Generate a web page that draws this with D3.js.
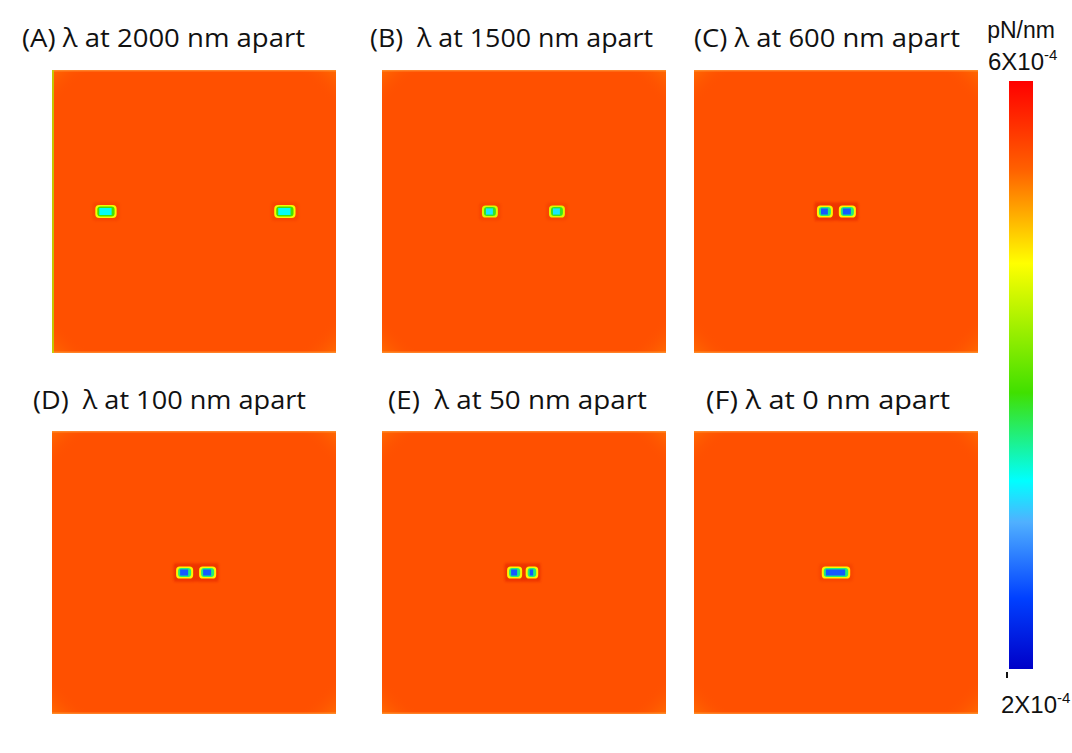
<!DOCTYPE html>
<html><head><meta charset="utf-8">
<script src="https://cdn.jsdelivr.net/npm/d3@7"></script>
<style>body{margin:0;background:#fff}svg{display:block}</style>
</head><body>
<svg id="c" width="1072" height="753"></svg>
<script>
// ---- data ----
const panelLabels = ["(A) λ at 2000 nm apart","(B)  λ at 1500 nm apart","(C) λ at 600 nm apart",
                     "(D)  λ at 100 nm apart","(E)  λ at 50 nm apart","(F) λ at 0 nm apart"];
const separationsNm = [2000,1500,600,100,50,0];
// marker centres, as percent of panel width from the left edge
const markerX = [[19,82],[38,61.6],[46.1,54.0],[46.7,54.8],[46.7,52.8],[50]];
const markerW = [[7.5,7.5],[5.6,5.6],[5.6,6.0],[6.0,6.0],[5.3,4.4],[10]];
const markerH = [4.6,4.3,4.3,4.3,4.3,4.3]; // percent of panel height
// force values (pN/nm) of field and marker layers
const fieldValue = 5.5e-4;
const rimValue   = [4.7e-4,4.6e-4,4.8e-4,4.8e-4,4.8e-4,4.8e-4];
const midValue   = [3.9e-4,3.8e-4,3.6e-4,3.6e-4,3.6e-4,3.6e-4];
const coreValue  = [3.3e-4,3.2e-4,2.6e-4,2.6e-4,2.6e-4,2.6e-4];
const cbarDomain = [2e-4,6e-4];
const cbarTickLabels = ["6X10","2X10"];
const cbarUnit = "pN/nm";
// jet-like colour stops (fraction from low to high)
const stopT = [0,0.12,0.25,0.32,0.47,0.69,0.85,1];
const stopC = ["#0000c8","#0040ff","#50b0ff","#00ffff","#40e000","#ffff00","#ff6000","#ff0000"];

// ---- layout ----
const svg = d3.select("#c");
const panelBoxes = [
  {x:52,y:70},{x:382,y:70},{x:694,y:70},
  {x:52,y:431},{x:382,y:431},{x:694,y:431}];
const PW=284, PH=283;
const titlePos = [[22,47],[370,47],[694,47],[33,409],[388,409],[706,409]];
const titleLen = [283,283,266,273,259,244];

const tScale = d3.scaleLinear().domain(cbarDomain).range([0,1]).clamp(true);
const cInterp = d3.scaleLinear().domain(stopT).range(stopC).interpolate(d3.interpolateRgb);
const color = v => cInterp(tScale(v));

const defs = svg.append("defs");
const blur = defs.append("filter").attr("id","soft").attr("x","-50%").attr("y","-50%").attr("width","200%").attr("height","200%");
blur.append("feGaussianBlur").attr("stdDeviation",1.2);
const blur2 = defs.append("filter").attr("id","soft2").attr("x","-50%").attr("y","-50%").attr("width","200%").attr("height","200%");
blur2.append("feGaussianBlur").attr("stdDeviation",0.6);
// edge vignette
const vg = defs.append("radialGradient").attr("id","vig").attr("cx","50%").attr("cy","50%").attr("r","72%");
vg.append("stop").attr("offset","0.85").attr("stop-color",color(fieldValue)).attr("stop-opacity",0);
vg.append("stop").attr("offset","1").attr("stop-color","#ffb000").attr("stop-opacity",0.35);

panelBoxes.forEach((b,i)=>{
  const g = svg.append("g").attr("transform",`translate(${b.x},${b.y})`);
  const x = d3.scaleLinear().domain([0,100]).range([0,PW]);
  const y = d3.scaleLinear().domain([0,100]).range([0,PH]);
  g.append("rect").attr("width",PW).attr("height",PH).attr("fill",color(fieldValue));
  g.append("rect").attr("width",PW).attr("height",PH).attr("fill","url(#vig)");
  g.append("rect").attr("x",0).attr("y",0).attr("width",PW).attr("height",1.5).attr("fill","#ffa040").attr("opacity",0.6);
  g.append("rect").attr("x",0).attr("y",PH-1.5).attr("width",PW).attr("height",1.5).attr("fill","#ffa040").attr("opacity",0.6);
  if(i===0){
    g.append("rect").attr("x",0).attr("y",0).attr("width",2).attr("height",PH).attr("fill","#b8e000").attr("opacity",0.8);
  }
  if(markerX[i].length===2 && separationsNm[i]<=600){
    // dark-red band around closely spaced markers
    const a = x(markerX[i][0]) - x(markerW[i][0])/2, bx = x(markerX[i][1]) + x(markerW[i][1])/2;
    g.append("rect").attr("x",a-2).attr("y",y(50)-y(markerH[i])/2-3).attr("width",bx-a+4).attr("height",y(markerH[i])+6)
      .attr("fill","#e02000").attr("opacity",0.5).attr("filter","url(#soft)");
  }
  markerX[i].forEach((mx,j)=>{
    const w = x(markerW[i][j]), h = y(markerH[i]);
    const cx = x(mx), cy = y(50);
    g.append("rect").attr("x",cx-w/2-3).attr("y",cy-h/2-3).attr("width",w+6).attr("height",h+6)
      .attr("rx",4).attr("fill","#e83000").attr("opacity",0.3).attr("filter","url(#soft)");
    g.append("rect").attr("x",cx-w/2).attr("y",cy-h/2).attr("width",w).attr("height",h)
      .attr("rx",h*0.3).attr("fill",color(rimValue[i])).attr("filter","url(#soft2)");
    g.append("rect").attr("x",cx-w/2+2).attr("y",cy-h/2+1.5).attr("width",w-4).attr("height",h-3)
      .attr("rx",h*0.25).attr("fill",color(midValue[i]));
    g.append("rect").attr("x",cx-w/2+4).attr("y",cy-h/2+3).attr("width",Math.max(w-9,2)).attr("height",h-6)
      .attr("fill",color(coreValue[i]));
  });
  svg.append("text").attr("x",titlePos[i][0]).attr("y",titlePos[i][1])
    .attr("font-family","'Open Sans', 'Noto Sans', sans-serif").attr("font-size",26)
    .attr("fill","#111").attr("xml:space","preserve").style("white-space","pre")
    .attr("textLength",titleLen[i]).attr("lengthAdjust","spacingAndGlyphs")
    .text(panelLabels[i]);
});

// ---- colour bar ----
const cb = {x:1009,y:81,w:24,h:588};
const lg = defs.append("linearGradient").attr("id","cbar").attr("x1",0).attr("y1",1).attr("x2",0).attr("y2",0);
stopT.forEach((t,k)=>lg.append("stop").attr("offset",t).attr("stop-color",stopC[k]));
svg.append("rect").attr("x",cb.x).attr("y",cb.y).attr("width",cb.w).attr("height",cb.h).attr("fill","url(#cbar)");
const cy = d3.scaleLinear().domain(cbarDomain).range([cb.y+cb.h,cb.y]);
svg.append("rect").attr("x",1006).attr("y",cy(cbarDomain[0])+3).attr("width",2).attr("height",6).attr("fill","#111");

const lf = "'Liberation Sans', Arial, sans-serif";
svg.append("text").attr("x",1021).attr("y",38).attr("text-anchor","middle")
  .attr("font-family",lf).attr("font-size",23).attr("fill","#111").text(cbarUnit);
function sciLabel(xp,yp,base){
  const t = svg.append("text").attr("x",xp).attr("y",yp).attr("font-family",lf).attr("font-size",24).attr("fill","#111");
  t.append("tspan").text(base);
  t.append("tspan").attr("dy",-10).attr("font-size",15).text("-4");
}
sciLabel(988,70,cbarTickLabels[0]);
sciLabel(1001,713,cbarTickLabels[1]);
</script>
</body></html>
